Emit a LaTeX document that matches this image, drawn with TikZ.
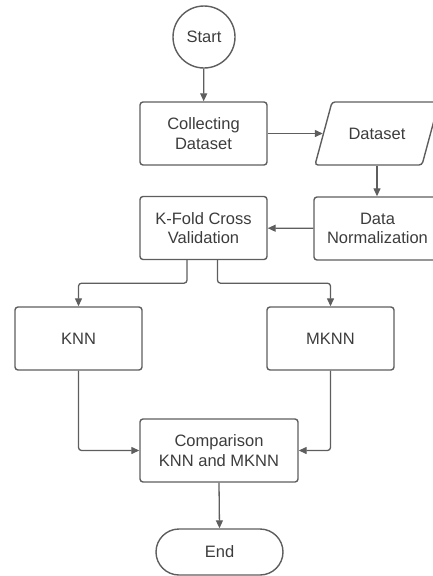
\documentclass[tikz,border=0pt]{standalone}
\usepackage{fontspec}
\setmainfont{Liberation Sans}
\usetikzlibrary{arrows.meta,shapes.geometric}
\definecolor{linec}{HTML}{5E5E5E}
\definecolor{textc}{HTML}{3C3C3C}
\tikzset{
  box/.style={draw=linec, line width=1.4pt, rounded corners=3pt, minimum width=127pt, minimum height=63pt, inner sep=0pt, align=center, text=textc, font=\fontsize{16.5}{19.5}\selectfont},
  arr/.style={draw=linec, line width=1.3pt, -{Triangle[length=8pt,width=7pt]}},
}
\begin{document}
\begin{tikzpicture}[x=1pt,y=-1pt]
\useasboundingbox (0,0) rectangle (432,576);
\node[box, circle, rounded corners=0pt, minimum size=62pt, minimum width=62pt, minimum height=62pt] (start) at (204,37) {Start};
\node[box] (collect) at (203.5,133.5) {Collecting\\Dataset};
\node[box, draw=none, minimum width=107pt] (dataset) at (377,133.5) {Dataset};
\draw[linec, line width=1.4pt, rounded corners=3pt] (315,165) -- (332,102) -- (439,102) -- (422,165) -- cycle;
\node[box] (dn) at (377.5,228.5) {Data\\Normalization};
\node[box] (kfold) at (203.5,228) {K-Fold Cross\\Validation};
\node[box] (knn) at (78.5,338.5) {KNN};
\node[box] (mknn) at (330.5,338.5) {MKNN};
\node[box, minimum width=158pt] (comp) at (219,450.5) {Comparison\\KNN and MKNN};
\node[box, rounded corners=23pt, minimum height=46pt] (end) at (219.5,552) {End};
\draw[arr] (start) -- (collect);
\draw[arr] (collect) -- (dataset);
\draw[arr] (dataset.south) -- (dn.north -| dataset.south);
\draw[arr] (dn) -- (kfold);
\draw[arr, rounded corners=3pt] ([xshift=-16.5pt]kfold.south) -- ++(0,23) -| (knn.north);
\draw[arr, rounded corners=3pt] ([xshift=14pt]kfold.south) -- ++(0,23) -| (mknn.north);
\draw[arr, rounded corners=3pt] (knn.south) |- (comp.west);
\draw[arr, rounded corners=3pt] (mknn.south) |- (comp.east);
\draw[arr] (comp.south) -- (end.north);
\end{tikzpicture}
\end{document}
